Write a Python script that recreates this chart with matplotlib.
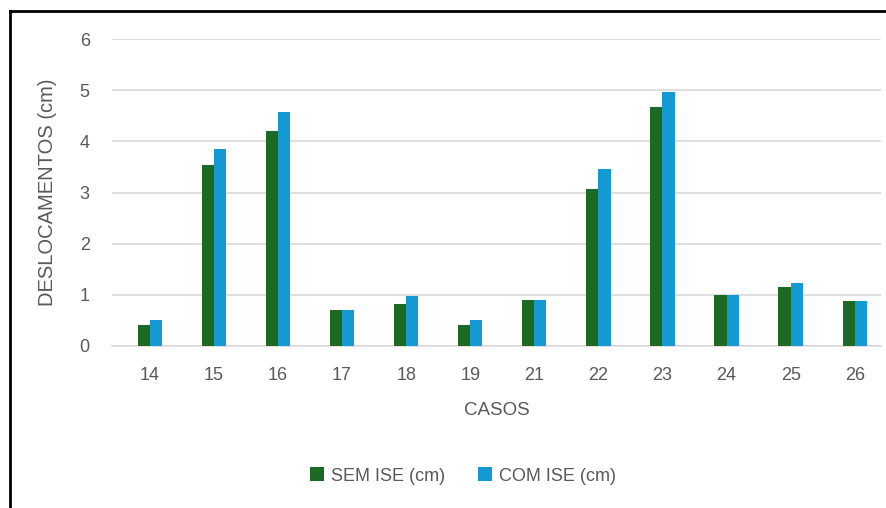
import numpy as np
import matplotlib.pyplot as plt
from matplotlib.lines import Line2D

casos = ["14", "15", "16", "17", "18", "19", "21", "22", "23", "24", "25", "26"]
sem_ise = [0.42, 3.54, 4.20, 0.70, 0.82, 0.42, 0.90, 3.06, 4.68, 1.00, 1.16, 0.87]
com_ise = [0.51, 3.85, 4.57, 0.70, 0.98, 0.51, 0.90, 3.46, 4.96, 1.00, 1.24, 0.87]

plt.rcParams['font.family'] = ['Liberation Sans', 'DejaVu Sans']
txt = "#595959"
green = "#1C6A24"
blue = "#139AD3"

fig = plt.figure(figsize=(8.87, 5.08), dpi=100)
ax = fig.add_axes([112/887, 1-346/508, (881-112)/887, (346-39)/508])

x = np.arange(len(casos))
w = 0.19
ax.bar(x - w/2, sem_ise, w, color=green, label="SEM ISE (cm)", zorder=3)
ax.bar(x + w/2, com_ise, w, color=blue, label="COM ISE (cm)", zorder=3)

ax.set_xlim(-0.59, len(casos) - 0.59)
ax.set_ylim(0, 6)
ax.set_yticks(range(0, 7))
ax.set_xticks(x)
ax.set_xticklabels(casos)
ax.grid(axis="y", color="#D9D9D9", linewidth=1.2, zorder=0)
for s in ["top", "right", "left"]:
    ax.spines[s].set_visible(False)
ax.spines["bottom"].set_color("#D9D9D9")
ax.spines["bottom"].set_linewidth(1.2)
ax.tick_params(length=0, labelsize=13, colors=txt)
ax.tick_params(axis="x", pad=15)
ax.tick_params(axis="y", pad=16)

ax.set_xlabel("CASOS", fontsize=13.5, color=txt, labelpad=13)
ax.set_ylabel("DESLOCAMENTOS (cm)", fontsize=14.5, color=txt, labelpad=16)

fig.legend(loc="center", bbox_to_anchor=(463/887, 1-476/508), ncol=2, frameon=False,
           fontsize=13, labelcolor=txt, handlelength=0.8, handleheight=0.8,
           handletextpad=0.4, columnspacing=1.8)

# frame around chart (only left and top visible)
fig.add_artist(Line2D([10/887, 10/887], [0, 1-11/508], transform=fig.transFigure, color="black", linewidth=2))
fig.add_artist(Line2D([10/887, 1], [1-11/508, 1-11/508], transform=fig.transFigure, color="black", linewidth=2))

fig.savefig("out.png", dpi=100)
